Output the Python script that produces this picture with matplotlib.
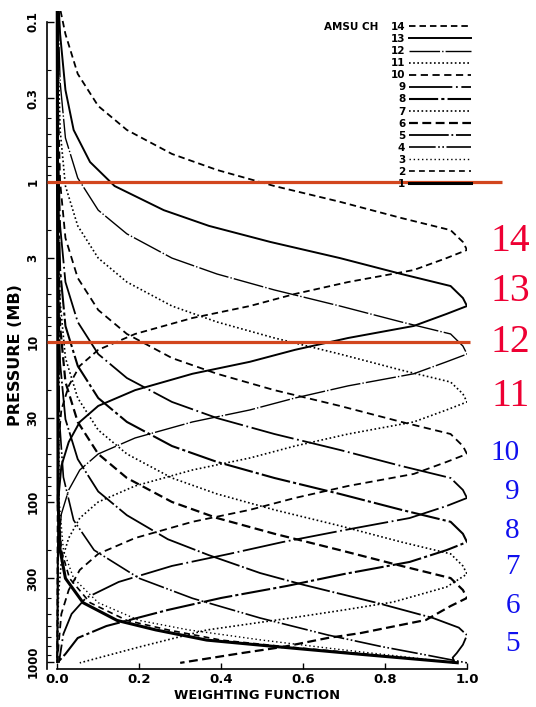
import matplotlib
matplotlib.use('Agg')
import matplotlib.pyplot as plt
import matplotlib.transforms as mtransforms
from matplotlib.lines import Line2D
from matplotlib.ticker import FixedLocator, NullFormatter, FixedFormatter

# ---------------- data ----------------
P_CH14 = [0.085, 0.119, 0.211, 0.335, 0.473, 0.668, 0.841, 1.06, 1.33, 1.68, 2.0, 2.37, 2.66, 2.99, 3.55, 4.22, 5.01, 5.96, 7.08, 8.91, 11.2, 14.1, 18.8, 26.6, 42.2, 100, 1013]
W_CH14 = [0.008, 0.02, 0.05, 0.10, 0.17, 0.28, 0.39, 0.53, 0.69, 0.84, 0.96, 0.99, 1.0, 0.95, 0.87, 0.71, 0.58, 0.47, 0.33, 0.19, 0.10, 0.055, 0.028, 0.01, 0.003, 0.001, 0.0]

P_CH13 = [0.085, 0.119, 0.266, 0.473, 0.750, 1.06, 1.50, 1.88, 2.37, 2.99, 3.76, 4.47, 5.31, 5.96, 6.68, 7.94, 9.44, 11.2, 13.3, 15.8, 20.0, 25.1, 31.6, 42.2, 59.6, 94.4, 300, 1013]
W_CH13 = [0.004, 0.007, 0.02, 0.04, 0.08, 0.14, 0.26, 0.37, 0.52, 0.69, 0.84, 0.96, 0.99, 1.0, 0.95, 0.87, 0.71, 0.58, 0.47, 0.33, 0.19, 0.10, 0.055, 0.028, 0.01, 0.003, 0.001, 0.0]

P_CH12 = [0.085, 0.237, 0.531, 0.944, 1.50, 2.11, 2.99, 3.76, 4.73, 5.96, 7.50, 8.91, 10.6, 11.9, 13.3, 15.8, 18.8, 22.4, 26.6, 31.6, 39.8, 50.1, 63.1, 84.1, 119, 188, 500, 1013]
W_CH12 = [0.002, 0.007, 0.02, 0.05, 0.10, 0.17, 0.28, 0.39, 0.53, 0.69, 0.84, 0.96, 0.99, 1.0, 0.95, 0.87, 0.71, 0.58, 0.47, 0.33, 0.19, 0.10, 0.055, 0.028, 0.01, 0.003, 0.001, 0.0]

P_CH11 = [0.085, 0.150, 0.473, 1.06, 1.88, 2.99, 4.22, 5.96, 7.50, 9.44, 11.9, 15.0, 17.8, 21.1, 23.7, 26.6, 31.6, 37.6, 44.7, 53.1, 63.1, 79.4, 100, 126, 168, 237, 376, 1013]
W_CH11 = [0.001, 0.002, 0.007, 0.02, 0.05, 0.10, 0.17, 0.28, 0.39, 0.53, 0.69, 0.84, 0.96, 0.99, 1.0, 0.95, 0.87, 0.71, 0.58, 0.47, 0.33, 0.19, 0.10, 0.055, 0.028, 0.01, 0.003, 0.0]

P_CH10 = [0.085, 0.316, 1.0, 2.24, 3.98, 6.31, 8.91, 12.6, 15.8, 20.0, 25.1, 31.6, 37.6, 44.7, 50.1, 56.2, 66.8, 79.4, 94.4, 112, 133, 168, 211, 266, 355, 501, 794, 1013]
W_CH10 = [0.0, 0.002, 0.007, 0.02, 0.05, 0.10, 0.17, 0.28, 0.39, 0.53, 0.69, 0.84, 0.96, 0.99, 1.0, 0.95, 0.87, 0.71, 0.58, 0.47, 0.33, 0.19, 0.10, 0.055, 0.028, 0.01, 0.003, 0.001]

P_CH9 = [0.085, 0.596, 1.88, 4.22, 7.50, 11.9, 16.8, 23.7, 29.9, 37.6, 47.3, 59.6, 70.8, 84.1, 94.4, 106, 126, 150, 178, 211, 251, 316, 398, 501, 668, 1013]
W_CH9 = [0.0, 0.002, 0.007, 0.02, 0.05, 0.10, 0.17, 0.28, 0.39, 0.53, 0.69, 0.84, 0.96, 0.99, 1.0, 0.95, 0.86, 0.70, 0.55, 0.42, 0.28, 0.15, 0.07, 0.035, 0.015, 0.004]

P_CH8 = [0.085, 1.12, 3.55, 7.94, 14.1, 22.4, 31.6, 44.7, 56.2, 70.8, 89.1, 112, 133, 158, 178, 200, 237, 282, 335, 398, 473, 596, 708, 891, 1013]
W_CH8 = [0.0, 0.002, 0.007, 0.02, 0.05, 0.10, 0.17, 0.28, 0.39, 0.53, 0.69, 0.84, 0.96, 0.99, 1.0, 0.95, 0.86, 0.70, 0.56, 0.40, 0.27, 0.12, 0.05, 0.02, 0.0]

P_CH7 = [0.085, 1.78, 5.62, 12.6, 22.4, 35.5, 50.1, 70.8, 89.1, 112, 141, 178, 211, 251, 282, 340, 422, 473, 531, 631, 806, 1013]
W_CH7 = [0.0, 0.002, 0.007, 0.02, 0.05, 0.10, 0.17, 0.28, 0.39, 0.53, 0.69, 0.84, 0.96, 0.99, 1.0, 0.95, 0.82, 0.70, 0.57, 0.365, 0.20, 0.055]

P_CH6 = [0.085, 2.51, 7.94, 17.8, 31.6, 50.1, 70.8, 100, 126, 158, 200, 251, 299, 355, 398, 447, 546, 660, 708, 806, 880, 1013]
W_CH6 = [0.0, 0.002, 0.007, 0.02, 0.05, 0.10, 0.17, 0.28, 0.39, 0.53, 0.69, 0.84, 0.96, 0.99, 1.0, 0.96, 0.90, 0.74, 0.66, 0.55, 0.45, 0.30]

P_CH5 = [0.085, 4.3, 13.6, 30.4, 54, 86, 121, 171, 215, 278, 329, 427, 531, 610, 680, 780, 880, 940, 1013]
W_CH5 = [0.0, 0.002, 0.007, 0.02, 0.05, 0.10, 0.17, 0.27, 0.37, 0.495, 0.60, 0.78, 0.917, 0.98, 1.0, 0.99, 0.975, 0.965, 0.97]

P_CH4 = [0.085, 30, 70, 130, 200, 300, 400, 531, 678, 800, 904, 1013]
W_CH4 = [0.0, 0.005, 0.015, 0.04, 0.09, 0.20, 0.33, 0.495, 0.66, 0.79, 0.90, 1.0]

P_CH3 = [0.085, 100, 200, 300, 426, 550, 630, 730, 830, 930, 1013]
W_CH3 = [0.0, 0.005, 0.015, 0.04, 0.10, 0.20, 0.32, 0.50, 0.68, 0.85, 0.97]

P_CH2 = [0.085, 100, 200, 300, 426, 550, 630, 730, 800, 900, 1013]
W_CH2 = [0.0, 0.003, 0.01, 0.03, 0.08, 0.17, 0.27, 0.40, 0.55, 0.77, 0.97]

P_CH1 = [0.085, 100, 200, 300, 426, 550, 630, 730, 800, 900, 1013]
W_CH1 = [0.0, 0.002, 0.007, 0.02, 0.063, 0.146, 0.24, 0.365, 0.53, 0.75, 0.98]

CHANNELS = [14, 13, 12, 11, 10, 9, 8, 7, 6, 5, 4, 3, 2, 1]
CURVES = {14: (P_CH14, W_CH14), 13: (P_CH13, W_CH13), 12: (P_CH12, W_CH12),
          11: (P_CH11, W_CH11), 10: (P_CH10, W_CH10), 9: (P_CH9, W_CH9),
          8: (P_CH8, W_CH8), 7: (P_CH7, W_CH7), 6: (P_CH6, W_CH6),
          5: (P_CH5, W_CH5), 4: (P_CH4, W_CH4), 3: (P_CH3, W_CH3),
          2: (P_CH2, W_CH2), 1: (P_CH1, W_CH1)}

Y_TICKS = [0.1, 0.3, 1, 3, 10, 30, 100, 300, 1000]
Y_TICKLABELS = ['0.1', '0.3', '1', '3', '10', '30', '100', '300', '1000']
X_TICKS = [0.0, 0.2, 0.4, 0.6, 0.8, 1.0]
X_TICKLABELS = ['0.0', '0.2', '0.4', '0.6', '0.8', '1.0']

RED_LEVELS = [1, 10]          # mb
RED_XEND = [1.085, 1.007]     # weighting-function units

RED_LABELS = ['14', '13', '12', '11']
RED_LABEL_P = [2.36, 4.87, 10.1, 21.8]
BLUE_LABELS = ['10', '9', '8', '7', '6', '5']
BLUE_LABEL_P = [49.4, 86.6, 152, 255, 447, 772]

# ---------------- styling ----------------
SANS = ['DejaVu Sans']
SERIF = ['Liberation Serif', 'DejaVu Serif']
STYLES = {
    14: dict(ls=(0, (3.6, 2.2)), lw=1.3),
    13: dict(ls='-', lw=1.4),
    12: dict(ls=(0, (22, 1.5, 1, 1.5)), lw=1.0),
    11: dict(ls=(0, (1, 1.5)), lw=1.2),
    10: dict(ls=(0, (4, 2.5)), lw=1.3),
    9: dict(ls=(0, (24, 2, 1, 2)), lw=1.3),
    8: dict(ls=(0, (14, 1.5, 1.5, 1.5)), lw=1.5),
    7: dict(ls=(0, (1, 1.5)), lw=1.2),
    6: dict(ls=(0, (4, 2)), lw=1.6),
    5: dict(ls=(0, (22, 1.5, 1, 1.5)), lw=1.3),
    4: dict(ls=(0, (16, 1.5, 1, 1.5, 1, 1.5)), lw=1.2),
    3: dict(ls=(0, (1, 2)), lw=1.0),
    2: dict(ls=(0, (3.5, 2.5)), lw=1.2),
    1: dict(ls='-', lw=2.2),
}

W, H = 536, 707
fig = plt.figure(figsize=(W / 100, H / 100), dpi=100)
ax = fig.add_axes([47 / W, 1 - 668.6 / H, 420 / W, (668.6 - 10.7) / H])

for ch in CHANNELS:
    p, w = CURVES[ch]
    ax.plot(w, p, color='black', solid_capstyle='butt', **STYLES[ch])

ax.set_yscale('log')
ax.set_ylim(1100, 0.085)
ax.set_xlim(-0.025, 1.0)

# red reference lines
for lev, xe in zip(RED_LEVELS, RED_XEND):
    ax.plot([-0.025, xe], [lev, lev], color='#D2461E', lw=2.3, clip_on=False, zorder=5,
            solid_capstyle='butt')

# axes styling
for s in ['top', 'right']:
    ax.spines[s].set_visible(False)
ax.spines['left'].set_bounds(1100, 0.1)
ax.spines['bottom'].set_bounds(0.0, 1.0)
ax.spines['left'].set_linewidth(1.2)
ax.spines['bottom'].set_linewidth(1.2)

ax.yaxis.set_major_locator(FixedLocator(Y_TICKS))
ax.yaxis.set_major_formatter(FixedFormatter(Y_TICKLABELS))
minor = []
for dec in [0.1, 1, 10, 100]:
    for m in [2, 4, 5, 6, 7, 8, 9]:
        minor.append(dec * m)
ax.yaxis.set_minor_locator(FixedLocator(minor))
ax.yaxis.set_minor_formatter(NullFormatter())
ax.xaxis.set_major_locator(FixedLocator(X_TICKS))
ax.xaxis.set_major_formatter(FixedFormatter(X_TICKLABELS))

ax.tick_params(axis='y', which='major', direction='in', length=5, width=1.0, pad=10)
ax.tick_params(axis='y', which='minor', direction='in', length=3, width=0.8)
ax.tick_params(axis='x', which='major', direction='in', length=4, width=1.0, pad=3)
for lab in ax.get_yticklabels():
    lab.set_rotation(90)
    lab.set_va('center')
    lab.set_ha('center')
    lab.set_family(SANS)
    lab.set_fontsize(8.5)
    lab.set_weight('bold')
for lab in ax.get_xticklabels():
    lab.set_family(SANS)
    lab.set_fontsize(9.5)
    lab.set_weight('bold')

ax.set_xlabel('WEIGHTING FUNCTION', family=SANS, fontsize=9.4, weight='bold', labelpad=2)
ax.set_ylabel('PRESSURE (MB)', family=SANS, fontsize=11.5, weight='bold')
ax.yaxis.set_label_coords(-0.074, 0.477)
ax.yaxis.label.set_va('center')

# legend
handles = [Line2D([], [], color='black', **STYLES[ch]) for ch in CHANNELS]
labels = [str(ch) for ch in CHANNELS]
leg = ax.legend(handles, labels, loc='upper right', bbox_to_anchor=(471 / W, 1 - 22 / H),
                bbox_transform=fig.transFigure, frameon=False, markerfirst=False,
                handlelength=6.0, handletextpad=0.3, labelspacing=0.2, borderpad=0,
                borderaxespad=0, prop=dict(family=SANS, size=7.5, weight='bold'))
fig.text(378 / W, 1 - 27 / H, 'AMSU CH', ha='right', va='center', family=SANS,
         fontsize=7.5, weight='bold')

# coloured channel labels on the right
tr = mtransforms.blended_transform_factory(fig.transFigure, ax.transData)
for t, pv in zip(RED_LABELS, RED_LABEL_P):
    ax.text(530 / W, pv, t, transform=tr, ha='right', va='center', family=SERIF,
            fontsize=28.5, color='#EE0033', clip_on=False)
for t, pv in zip(BLUE_LABELS, BLUE_LABEL_P):
    ax.text(520 / W, pv, t, transform=tr, ha='right', va='center', family=SERIF,
            fontsize=21, color='#1010EE', clip_on=False)

fig.savefig('out.png', dpi=100)
